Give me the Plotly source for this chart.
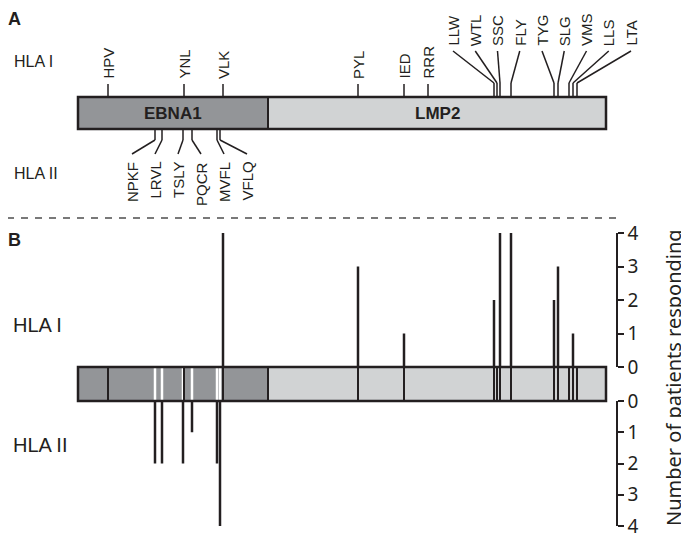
import plotly.graph_objects as go

W, H = 689, 540          # browser window
OFF = 8                  # default page body margin
FW, FH = W - OFF, H - OFF  # figure size so it fits inside the page

# ---------------- data ----------------
ebna1_len = 190          # construct position units
lmp2_len = 338
hla1_names = ["HPV", "YNL", "VLK", "PYL", "IED", "RRR", "LLW", "WTL", "SSC",
              "FLY", "TYG", "SLG", "VMS", "LLS", "LTA"]
hla1_pos = [30, 106, 145, 280, 326, 350, 416, 419, 422, 433, 476, 480, 491, 495, 499]
hla1_resp = [0, 0, 4, 3, 1, None, 2, 0, 4, 4, 2, 3, 0, 1, 0]
hla1_leader = [False] * 6 + [True] * 9
hla2_names = ["NPKF", "LRVL", "TSLY", "PQCR", "MVFL", "VFLQ"]
hla2_pos = [77, 84, 105, 114, 139, 142]
hla2_resp = [2, 2, 2, 1, 2, 4]
resp_ticks = [0, 1, 2, 3, 4]

# ---------------- layout helpers ----------------
X0 = 78  # page pixel of position 0
total = ebna1_len + lmp2_len
INK = "#231f20"
DARK = "#939598"
LIGHT = "#d1d3d4"
FA = "Liberation Sans, Arial, sans-serif"
FB = "Noto Sans, Open Sans, sans-serif"


def py(y):
    """page pixel y -> paper fraction"""
    return 1 - (y - OFF) / FH


def pxp(x):
    """page pixel x -> paper fraction"""
    return (x - OFF) / FW


shapes = []
annotations = []


def seg(x0, x1, y0, y1, color=INK, width=1.5, layer="above"):
    shapes.append(dict(type="line", xref="x", yref="paper", x0=x0, x1=x1,
                       y0=py(y0), y1=py(y1), line=dict(color=color, width=width),
                       layer=layer))


def label(text, x, y, xref="paper", xanchor="left", yanchor="middle", size=15,
          family=FA, angle=0):
    annotations.append(dict(x=x, y=y, xref=xref, yref="paper", text=text,
                            textangle=angle, xanchor=xanchor, yanchor=yanchor,
                            showarrow=False, borderpad=0,
                            font=dict(family=family, size=size, color=INK)))


def protein_bar(ytop, ybot):
    shapes.append(dict(type="rect", xref="x", yref="paper", x0=0, x1=ebna1_len,
                       y0=py(ybot), y1=py(ytop), fillcolor=DARK, line=dict(width=0),
                       layer="below"))
    shapes.append(dict(type="rect", xref="x", yref="paper", x0=ebna1_len, x1=total,
                       y0=py(ybot), y1=py(ytop), fillcolor=LIGHT, line=dict(width=0),
                       layer="below"))


def bar_outline(ytop, ybot):
    seg(ebna1_len, ebna1_len, ytop, ybot, width=2, layer="below")
    shapes.append(dict(type="rect", xref="x", yref="paper", x0=0, x1=total,
                       y0=py(ybot), y1=py(ytop), line=dict(color=INK, width=2.5),
                       layer="below"))


# ---------------- panel A ----------------
protein_bar(97, 129)
bar_outline(97, 129)
label("<b>EBNA1</b>", ebna1_len / 2, py(113), xref="x", xanchor="center", size=17)
label("<b>LMP2</b>", ebna1_len + lmp2_len / 2, py(113), xref="x", xanchor="center", size=17)

lead_i = 0
for name, pos, lead in zip(hla1_names, hla1_pos, hla1_leader):
    if not lead:
        seg(pos, pos, 84, 97)
        label(name, pos, py(80), xref="x", xanchor="center", yanchor="bottom", angle=-90)
    else:
        lx = 375 + 22.25 * lead_i
        lead_i += 1
        seg(pos, pos, 83, 97)
        seg(pos, lx, 83, 51)
        label(name, lx, py(47), xref="x", xanchor="center", yanchor="bottom", angle=-90)

for i, (name, pos) in enumerate(zip(hla2_names, hla2_pos)):
    lx = 54 + 23 * i
    seg(pos, pos, 129, 140)
    seg(pos, lx, 140, 154)
    label(name, lx, py(161), xref="x", xanchor="center", yanchor="top", angle=-90)

label("HLA I", pxp(13), py(62), size=16)
label("HLA II", pxp(13), py(173), size=16)
label("<b>A</b>", pxp(7), py(19), size=18)

# dashed separator
shapes.append(dict(type="line", xref="paper", yref="paper", x0=pxp(7), x1=pxp(617),
                   y0=py(218), y1=py(218), line=dict(color="#4d4d4d", width=1.5, dash="7px,7px")))

# ---------------- panel B ----------------
label("<b>B</b>", pxp(7), py(240), size=18)
label("HLA I", pxp(12), py(325), size=20)
label("HLA II", pxp(12), py(445), size=20)

protein_bar(367, 401)
for pos in hla2_pos:
    seg(pos, pos, 368, 400, color="white", width=2.5, layer="below")
for pos, r in zip(hla1_pos, hla1_resp):
    if r is not None:
        seg(pos, pos, 367, 401, width=2, layer="below")
bar_outline(367, 401)


def spikes(pos_list, resp_list):
    xs, ys = [], []
    for p, r in zip(pos_list, resp_list):
        if r:
            xs += [p, p, None]
            ys += [0, r, None]
    return xs, ys


x1s, y1s = spikes(hla1_pos, hla1_resp)
x2s, y2s = spikes(hla2_pos, hla2_resp)

fig = go.Figure()
fig.add_trace(go.Scatter(x=x1s, y=y1s, mode="lines", xaxis="x", yaxis="y2",
                         line=dict(color=INK, width=2.5), hoverinfo="skip", showlegend=False))
fig.add_trace(go.Scatter(x=x2s, y=y2s, mode="lines", xaxis="x", yaxis="y3",
                         line=dict(color=INK, width=2.5), hoverinfo="skip", showlegend=False))

axis_common = dict(anchor="free", position=pxp(617), side="right", showline=True,
                   linecolor=INK, linewidth=1.5, ticks="outside", ticklen=6, tickwidth=1.5,
                   tickcolor=INK, tickvals=resp_ticks, ticktext=[str(t) for t in resp_ticks],
                   tickfont=dict(family=FB, size=19, color=INK), showgrid=False,
                   zeroline=False, fixedrange=True, automargin=False,
                   ticklabeloverflow="allow")

label("Number of patients responding", pxp(673), py(378), xanchor="center",
      size=20, family=FB, angle=-90)

fig.update_layout(
    width=FW, height=FH, autosize=False,
    margin=dict(l=0, r=0, t=0, b=0, pad=0, autoexpand=False),
    paper_bgcolor="white", plot_bgcolor="white",
    xaxis=dict(range=[-(X0 - OFF), FW - (X0 - OFF)], domain=[0, 1], visible=False,
               fixedrange=True, automargin=False),
    yaxis=dict(range=[0, 1], domain=[0, 1], visible=False, fixedrange=True, automargin=False),
    yaxis2=dict(domain=[py(367), py(233)], range=[0, 4], **axis_common),
    yaxis3=dict(domain=[py(526), py(401)], range=[4, 0], **axis_common),
    shapes=shapes,
    annotations=annotations,
    showlegend=False,
)

fig.write_html("out.html")
